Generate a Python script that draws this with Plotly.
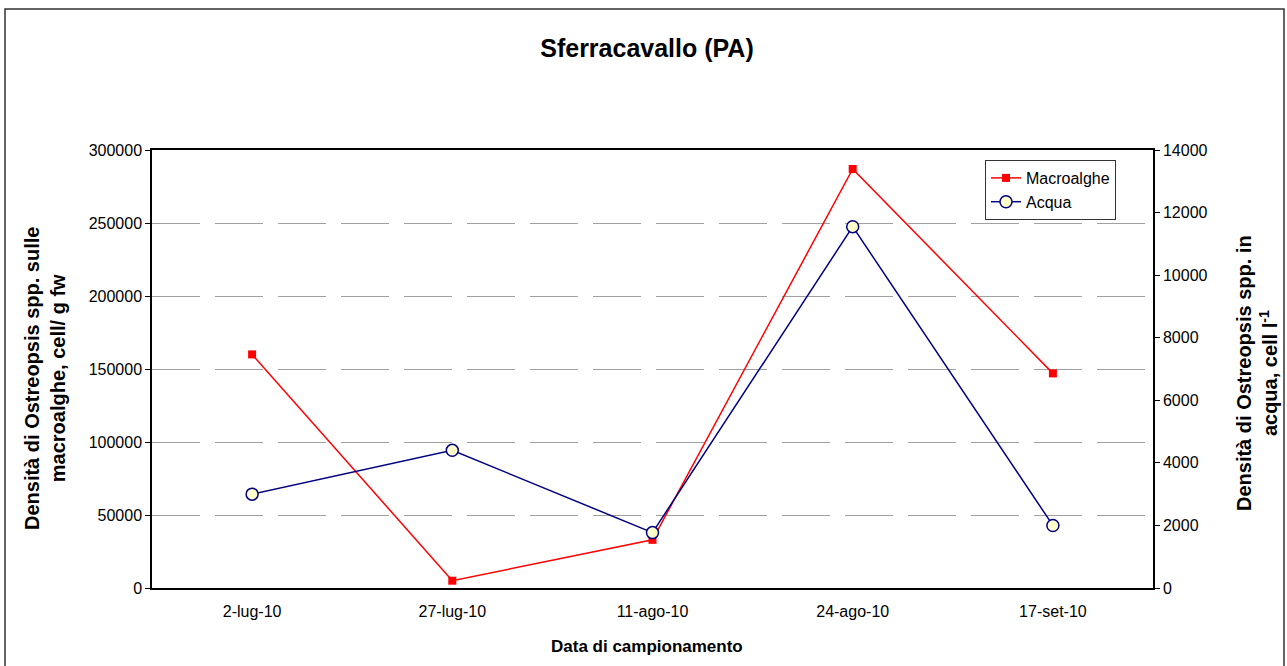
import plotly.graph_objects as go

categories = ["2-lug-10", "27-lug-10", "11-ago-10", "24-ago-10", "17-set-10"]
macroalghe = [160000, 5000, 33000, 287000, 147000]
acqua = [3000, 4400, 1770, 11550, 2000]
left_ticks = [0, 50000, 100000, 150000, 200000, 250000, 300000]
right_ticks = [0, 2000, 4000, 6000, 8000, 10000, 12000, 14000]

W, H = 1287, 666
L, R, T, B = 152, 1153, 150, 588
pw, ph = R - L, B - T

def px(x):
    return (x - L) / pw

def py(y):
    return (B - y) / ph

fig = go.Figure()
fig.add_trace(go.Scatter(
    x=categories, y=macroalghe, name="Macroalghe", mode="lines+markers",
    line=dict(color="#FF0000", width=1.5),
    marker=dict(symbol="square", size=8, color="#FF0000", line=dict(width=0)),
))
fig.add_trace(go.Scatter(
    x=categories, y=acqua, name="Acqua", mode="lines+markers", yaxis="y2",
    line=dict(color="#000080", width=1.5),
    marker=dict(symbol="circle", size=12, color="#FFFFCC", line=dict(color="#000080", width=1.5)),
))

font_family = "Arial, Liberation Sans, sans-serif"

fig.update_layout(
    width=W, height=H,
    margin=dict(l=L, r=W - R, t=T, b=H - B),
    paper_bgcolor="white", plot_bgcolor="white",
    font=dict(family=font_family, size=16, color="black"),
    title=dict(text="<b>Sferracavallo (PA)</b>", x=647 / W, xanchor="center",
               y=1 - 48 / H, yanchor="middle", font=dict(size=25, color="black")),
    xaxis=dict(
        type="category", categoryorder="array", categoryarray=categories,
        range=[-0.5, len(categories) - 0.5],
        showline=True, linecolor="black", linewidth=1.5, mirror=True,
        ticks="", showgrid=False, tickfont=dict(size=16), ticklabelstandoff=8,
    ),
    yaxis=dict(
        range=[0, 300000], tickvals=left_ticks, ticktext=[str(v) for v in left_ticks],
        showline=True, linecolor="black", linewidth=1.5,
        ticks="outside", ticklen=5, tickcolor="black", tickwidth=1,
        showgrid=True, gridcolor="#A0A0A0", gridwidth=1, griddash="48px,15px",
        zeroline=False, tickfont=dict(size=16),
    ),
    yaxis2=dict(
        range=[0, 14000], tickvals=right_ticks, ticktext=[str(v) for v in right_ticks],
        overlaying="y", side="right",
        showline=True, linecolor="black", linewidth=1.5,
        ticks="outside", ticklen=5, tickcolor="black", tickwidth=1,
        showgrid=False, zeroline=False, tickfont=dict(size=16),
    ),
    legend=dict(
        x=px(985), y=py(160), xanchor="left", yanchor="top",
        bgcolor="white", bordercolor="#333333", borderwidth=1,
        font=dict(size=16), tracegroupgap=0, itemwidth=30,
    ),
    showlegend=True,
)

fig.add_annotation(text="<b>Data di campionamento</b>", xref="paper", yref="paper",
                   x=px(647), y=py(646), xanchor="center", yanchor="middle",
                   showarrow=False, font=dict(size=17, color="black"))
fig.add_annotation(text="<b>Densità di Ostreopsis spp. sulle<br>macroalghe, cell/ g fw</b>",
                   xref="paper", yref="paper", x=px(45), y=py(379),
                   xanchor="center", yanchor="middle", textangle=-90,
                   showarrow=False, font=dict(size=20, color="black"))
fig.add_annotation(text="<b>Densità di Ostreopsis spp. in<br>acqua, cell l<sup>-1</sup></b>",
                   xref="paper", yref="paper", x=px(1257), y=py(373),
                   xanchor="center", yanchor="middle", textangle=-90,
                   showarrow=False, font=dict(size=20, color="black"))

fig.add_shape(type="rect", xref="paper", yref="paper",
              x0=px(5), x1=px(1284), y0=py(690), y1=py(9),
              line=dict(color="#333333", width=1.5), fillcolor="rgba(0,0,0,0)", layer="below")

fig.write_html("out.html", config={"displayModeBar": False},
               post_script="document.body.style.margin='0px';")
